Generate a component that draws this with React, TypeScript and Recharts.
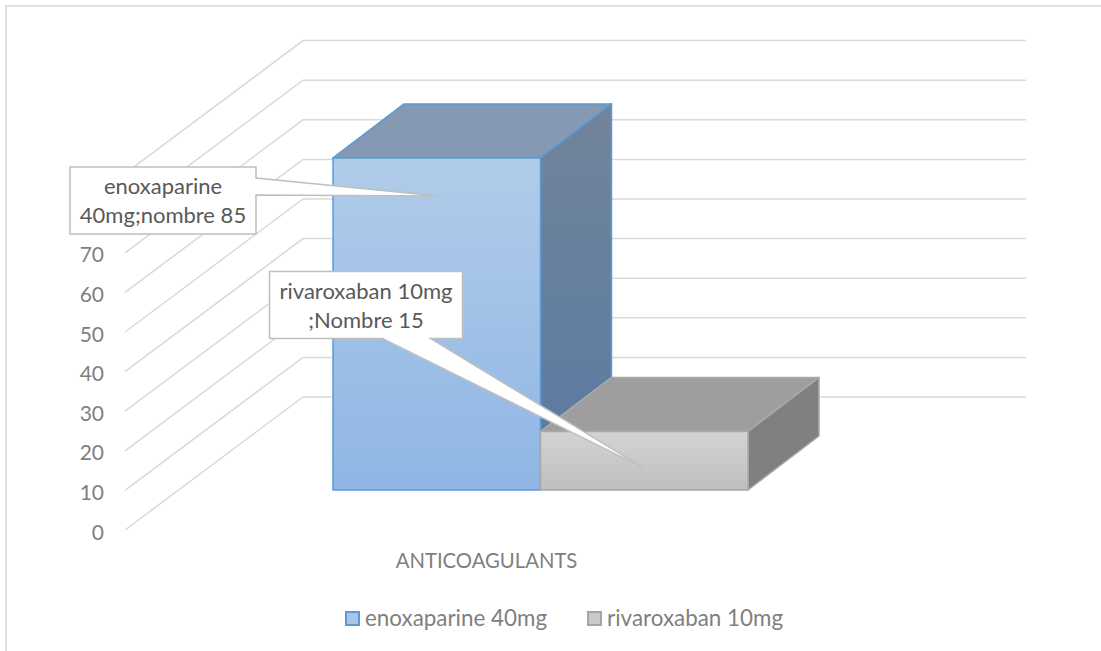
import { BarChart, Bar, XAxis, YAxis, Legend, LabelList, CartesianGrid } from 'recharts';

const category = 'ANTICOAGULANTS';
const enoxaparine = 85;
const rivaroxaban = 15;
const yTicks = [0, 10, 20, 30, 40, 50, 60, 70, 80, 90];
// these two sit behind the first callout, so no label is written for them
const coveredTicks = [80, 90];

const chartData = [{ name: category, enoxaparine, rivaroxaban }];

const FONT = 'Lato, "Open Sans", sans-serif';
const GRID = '#D9D9D9';

// oblique projection used by the walls and the boxes
const WALL_LEFT = 125;
const WALL_DX = 178;
const WALL_DY = 133;
const WALL_RIGHT = 1026;
const BAR_DX = 71;
const BAR_DY = 54;

// side wall + back wall line for one axis value
function WallLine({ y1 }: any) {
  return (
    <polyline
      points={`${WALL_LEFT},${y1} ${WALL_LEFT + WALL_DX},${y1 - WALL_DY} ${WALL_RIGHT},${y1 - WALL_DY}`}
      fill="none"
      stroke={GRID}
      strokeWidth={1.5}
    />
  );
}

function ValueTick({ y, payload }: any) {
  if (coveredTicks.includes(payload.value)) return <g />;
  return (
    <text x={104} y={y + 1} textAnchor="end" dominantBaseline="central" fontFamily={FONT} fontSize={21} fill="#7F7F7F">
      {payload.value}
    </text>
  );
}

function Box3D({ x, y, width, height, front, top, side, edge }: any) {
  const r = x + width;
  const b = y + height;
  return (
    <g stroke={edge} strokeWidth={1.5} strokeLinejoin="round">
      <path d={`M${x},${y} L${x + BAR_DX},${y - BAR_DY} L${r + BAR_DX},${y - BAR_DY} L${r},${y} Z`} fill={top} />
      <path d={`M${r},${y} L${r + BAR_DX},${y - BAR_DY} L${r + BAR_DX},${b - BAR_DY} L${r},${b} Z`} fill={side} />
      <rect x={x} y={y} width={width} height={height} fill={front} />
    </g>
  );
}

// white callout with a pointed tail, anchored on the bar it describes
function Callout({ x, y, lines, box, joints, tip }: any) {
  const left = x + box[0];
  const right = left + box[2];
  const topY = y + box[1];
  const bottom = topY + box[3];
  const outline =
    joints.side === 'right'
      ? `M${left},${topY} L${right},${topY} L${right},${y + joints.a} L${x + tip[0]},${y + tip[1]} L${right},${y + joints.b} L${right},${bottom} L${left},${bottom} Z`
      : `M${left},${topY} L${right},${topY} L${right},${bottom} L${x + joints.b},${bottom} L${x + tip[0]},${y + tip[1]} L${x + joints.a},${bottom} L${left},${bottom} Z`;
  const midY = (topY + bottom) / 2;
  return (
    <g>
      <path d={outline} fill="#FFFFFF" stroke="#BFBFBF" strokeWidth={1.5} />
      {lines.map((line: string, i: number) => (
        <text
          key={line}
          x={(left + right) / 2}
          y={midY + (i - (lines.length - 1) / 2) * 29}
          textAnchor="middle"
          dominantBaseline="central"
          fontFamily={FONT}
          fontSize={22}
          fill="#595959"
        >
          {line}
        </text>
      ))}
    </g>
  );
}

function LegendContent({ payload }: any) {
  const swatches: Record<string, [string, string]> = {
    'enoxaparine 40mg': ['#A9C6E9', '#5B9BD5'],
    'rivaroxaban 10mg': ['#C9C9C9', '#A5A5A5'],
  };
  return (
    <div style={{ display: 'flex', fontFamily: FONT, fontSize: 22.4, color: '#7F7F7F', lineHeight: '24px', whiteSpace: 'nowrap' }}>
      {(payload || []).map((entry: any, i: number) => (
        <div key={entry.value} style={{ display: 'flex', alignItems: 'center', marginLeft: i ? 40 : 0 }}>
          <span
            style={{
              display: 'inline-block',
              boxSizing: 'border-box',
              width: 15,
              height: 15,
              marginRight: 5,
              background: swatches[entry.value][0],
              border: `2px solid ${swatches[entry.value][1]}`,
            }}
          />
          {entry.value}
        </div>
      ))}
    </div>
  );
}

export default function App() {
  return (
    <div style={{ position: 'absolute', left: 0, top: 0, width: 1101, height: 651, overflow: 'hidden', background: '#fff' }}>
      <div style={{ position: 'absolute', left: 5, top: 5, width: 1096, height: 646, borderTop: '2px solid #E0E0E0', borderLeft: '2px solid #E0E0E0' }} />
      <BarChart
        width={1101}
        height={651}
        data={chartData}
        margin={{ top: 40, right: 253, bottom: 91, left: 65 }}
        barGap={0}
        barSize={207.5}
      >
        <defs>
          <linearGradient id="enoxFront" x1="0" y1="0" x2="0" y2="1">
            <stop offset="0%" stopColor="#B1CCEA" />
            <stop offset="100%" stopColor="#8FB6E4" />
          </linearGradient>
          <linearGradient id="enoxSide" x1="0" y1="0" x2="0" y2="1">
            <stop offset="0%" stopColor="#72849B" />
            <stop offset="100%" stopColor="#587AA2" />
          </linearGradient>
          <linearGradient id="rivaFront" x1="0" y1="0" x2="0" y2="1">
            <stop offset="0%" stopColor="#D4D4D4" />
            <stop offset="100%" stopColor="#BEBEBE" />
          </linearGradient>
        </defs>

        <CartesianGrid vertical={false} horizontal={WallLine} syncWithTicks />

        <XAxis
          dataKey="name"
          axisLine={false}
          tickLine={false}
          tick={{ fontFamily: FONT, fontSize: 20.3, fill: '#7F7F7F' }}
          height={30}
          tickMargin={18}
        />
        <YAxis
          width={60}
          domain={[0, 123.74]}
          ticks={yTicks}
          interval={0}
          axisLine={false}
          tickLine={false}
          tick={ValueTick}
          allowDataOverflow
        />

        {/* the boxes sit on a plane in front of the back wall, so they get their own scales */}
        <XAxis xAxisId="boxes" dataKey="name" hide padding={{ left: 108, right: 0 }} />
        <YAxis yAxisId="boxes" hide domain={[-10.24, 115.2]} allowDataOverflow />

        <Legend
          layout="horizontal"
          verticalAlign="middle"
          align="center"
          content={<LegendContent />}
          wrapperStyle={{ position: 'absolute', left: 345, top: 606, width: 'auto' }}
        />

        <Bar
          name="enoxaparine 40mg"
          dataKey="enoxaparine"
          xAxisId="boxes"
          yAxisId="boxes"
          isAnimationActive={false}
          fill="#A9C6E9"
          shape={(p: any) => <Box3D {...p} front="url(#enoxFront)" top="#8599B2" side="url(#enoxSide)" edge="#5B9BD5" />}
        >
          <LabelList
            dataKey="enoxaparine"
            content={(p: any) => (
              <Callout
                x={p.x}
                y={p.y}
                lines={['enoxaparine', `40mg;nombre ${p.value}`]}
                box={[-263, 9, 186, 67]}
                joints={{ side: 'right', a: 20, b: 37 }}
                tip={[105, 38]}
              />
            )}
          />
        </Bar>
        <Bar
          name="rivaroxaban 10mg"
          dataKey="rivaroxaban"
          xAxisId="boxes"
          yAxisId="boxes"
          isAnimationActive={false}
          fill="#C9C9C9"
          shape={(p: any) => <Box3D {...p} front="url(#rivaFront)" top="#9E9E9E" side="#808080" edge="#A9A9A9" />}
        >
          <LabelList
            dataKey="rivaroxaban"
            content={(p: any) => (
              <Callout
                x={p.x}
                y={p.y}
                lines={['rivaroxaban 10mg', `;Nombre ${p.value}`]}
                box={[-271, -160, 193, 67]}
                joints={{ side: 'bottom', a: -158, b: -110 }}
                tip={[102, 36]}
              />
            )}
          />
        </Bar>
      </BarChart>
    </div>
  );
}
